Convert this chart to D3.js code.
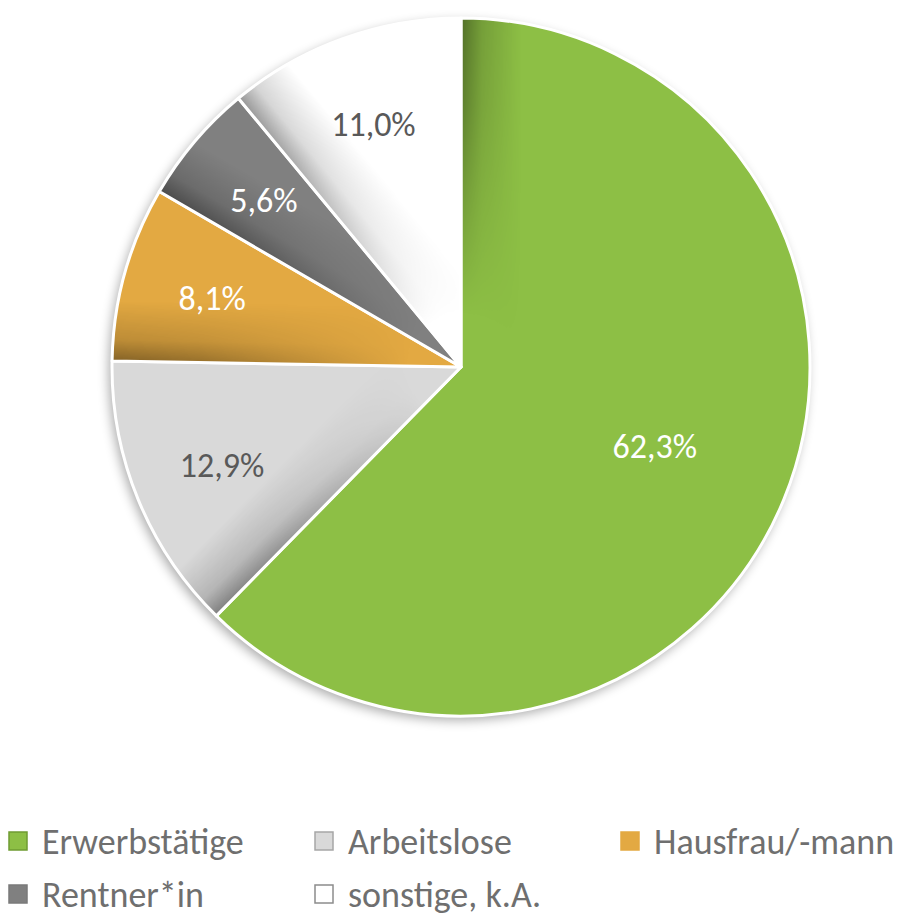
<!DOCTYPE html>
<html>
<head>
<meta charset="utf-8">
<script src="https://cdn.jsdelivr.net/npm/d3@7"></script>
<style>
  body { margin: 0; background: #fff; }
  svg { display: block; }
  text { font-family: Carlito, "Liberation Sans Narrow", Lato, "Open Sans", sans-serif; }
</style>
</head>
<body>
<div id="chart"></div>
<script>
// data
const categories = ["Erwerbstätige", "Arbeitslose", "Hausfrau/-mann", "Rentner*in", "sonstige, k.A."];
const shares = [62.3, 12.9, 8.1, 5.6, 11.0];
const labels = ["62,3%", "12,9%", "8,1%", "5,6%", "11,0%"];

const colors = ["#8dbf45", "#d9d9d9", "#e3a942", "#808080", "#ffffff"];
const labelColors = ["#ffffff", "#595959", "#ffffff", "#ffffff", "#595959"];
const swatchStroke = ["#6f9c32", "#a6a6a6", "#e3a942", "#7a7a7a", "#8c8c8c"];

const width = 899, height = 916;
const cx = 461, cy = 367, R = 349;

const svg = d3.select("#chart").append("svg")
  .attr("width", width)
  .attr("height", height);

const defs = svg.append("defs");

// soft outer shadow
const shadow = defs.append("filter").attr("id", "pieShadow")
  .attr("x", "-20%").attr("y", "-20%").attr("width", "140%").attr("height", "140%");
shadow.append("feGaussianBlur").attr("in", "SourceAlpha").attr("stdDeviation", 6);
shadow.append("feOffset").attr("dx", -3).attr("dy", 4).attr("result", "b");
shadow.append("feComponentTransfer").append("feFuncA").attr("type", "linear").attr("slope", 0.35);

// edge shading gradient (dark at the start edge, fading out clockwise)
const edgeGrad = defs.append("linearGradient").attr("id", "edgeGrad")
  .attr("x1", 0).attr("y1", 0).attr("x2", 1).attr("y2", 0);
edgeGrad.append("stop").attr("offset", 0).attr("stop-color", "#000").attr("stop-opacity", 0.42);
edgeGrad.append("stop").attr("offset", 0.35).attr("stop-color", "#000").attr("stop-opacity", 0.17);
edgeGrad.append("stop").attr("offset", 1).attr("stop-color", "#000").attr("stop-opacity", 0);

// radial fade towards center
const radFade = defs.append("radialGradient").attr("id", "radFade")
  .attr("gradientUnits", "userSpaceOnUse")
  .attr("cx", 0).attr("cy", 0).attr("r", R);
radFade.append("stop").attr("offset", 0.15).attr("stop-color", "#fff").attr("stop-opacity", 0);
radFade.append("stop").attr("offset", 0.75).attr("stop-color", "#fff").attr("stop-opacity", 0.8);
radFade.append("stop").attr("offset", 1).attr("stop-color", "#fff").attr("stop-opacity", 1);
defs.append("mask").attr("id", "radMask")
  .attr("maskUnits", "userSpaceOnUse")
  .attr("x", -R).attr("y", -R).attr("width", 2 * R).attr("height", 2 * R)
  .append("circle").attr("r", R).attr("fill", "url(#radFade)");

const pie = d3.pie().sort(null).value(d => d);
const arcs = pie(shares);
const arc = d3.arc().innerRadius(0).outerRadius(R);
// big slice label sits nearer the centre, small ones further out
const labelPos = d => {
  const r = (d.endAngle - d.startAngle) > Math.PI ? R * 0.6 : R * 0.74;
  return d3.arc().innerRadius(r).outerRadius(r).centroid(d);
};

const g = svg.append("g").attr("transform", `translate(${cx},${cy})`);

// shadow disc
g.append("circle").attr("r", R).attr("fill", "#fff").attr("filter", "url(#pieShadow)");

arcs.forEach((d, i) => {
  defs.append("clipPath").attr("id", "clip" + i)
    .append("path").attr("d", arc(d));
});

const slices = g.selectAll("g.slice").data(arcs).join("g").attr("class", "slice");

slices.append("path")
  .attr("d", arc)
  .attr("fill", (d, i) => colors[i]);

slices.append("g")
  .attr("clip-path", (d, i) => `url(#clip${i})`)
  .append("g")
  .attr("mask", "url(#radMask)")
  .append("rect")
  .attr("transform", d => `rotate(${d.startAngle * 180 / Math.PI})`)
  .attr("x", 0).attr("y", -R)
  .attr("width", 60).attr("height", R)
  .attr("fill", "url(#edgeGrad)");

slices.append("path")
  .attr("d", arc)
  .attr("fill", "none")
  .attr("stroke", "#fff")
  .attr("stroke-width", 3)
  .attr("stroke-linejoin", "round");

slices.append("text")
  .attr("transform", d => `translate(${labelPos(d)})`)
  .attr("text-anchor", "middle")
  .attr("dy", "0.35em")
  .attr("font-size", 34)
  .attr("fill", (d, i) => labelColors[i])
  .text((d, i) => labels[i]);

// legend
const legX = d3.scalePoint().domain([0, 1, 2]).range([8, 620]);
const legY = d3.scalePoint().domain([0, 1]).range([841, 894]);

const legend = svg.append("g").selectAll("g").data(categories).join("g")
  .attr("transform", (d, i) => `translate(${legX(i % 3)},${legY(Math.floor(i / 3))})`);

legend.append("rect")
  .attr("x", 1).attr("y", -9)
  .attr("width", 18).attr("height", 18)
  .attr("fill", (d, i) => colors[i])
  .attr("stroke", (d, i) => swatchStroke[i])
  .attr("stroke-width", 1.5);

legend.append("text")
  .attr("x", 34)
  .attr("dy", "0.35em")
  .attr("font-size", 36)
  .attr("fill", "#6f6f6f")
  .text(d => d);
</script>
</body>
</html>
